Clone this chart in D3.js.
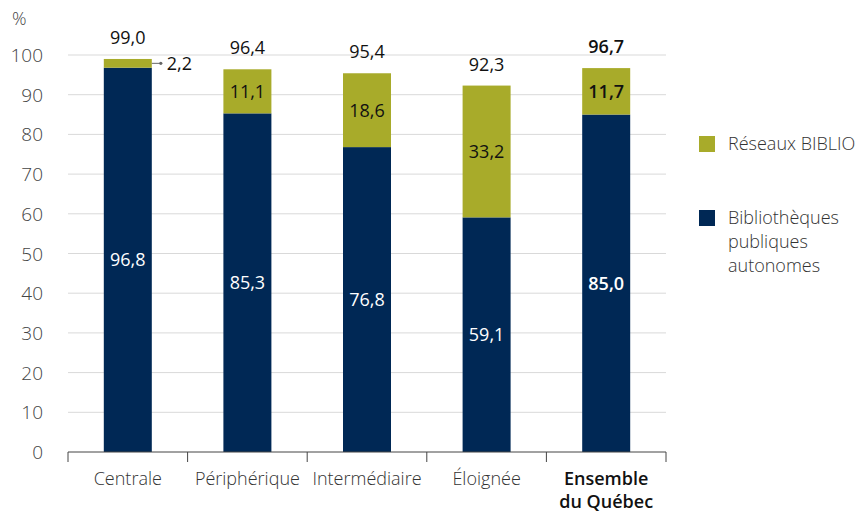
<!DOCTYPE html>
<html>
<head>
<meta charset="utf-8">
<script src="https://cdn.jsdelivr.net/npm/d3@7"></script>
<style>
  body { margin: 0; background: #fff; }
  svg { font-family: "Open Sans", sans-serif; }
</style>
</head>
<body>
<svg id="chart" width="868" height="512"></svg>
<script>
const categories = ["Centrale", "Périphérique", "Intermédiaire", "Éloignée", "Ensemble du Québec"];
const autonomes = [96.8, 85.3, 76.8, 59.1, 85.0];
const biblio = [2.2, 11.1, 18.6, 33.2, 11.7];
const totals = [99.0, 96.4, 95.4, 92.3, 96.7];
const yTicks = [0, 10, 20, 30, 40, 50, 60, 70, 80, 90, 100];

const navy = "#002855";
const olive = "#a8ab2a";
const fs = 18;
const fmt = (v) => v.toFixed(1).replace(".", ",");

const svg = d3.select("#chart");
const plotLeft = 68, plotRight = 666, plotTop = 55, plotBottom = 452;

const x = d3.scaleBand().domain(categories).range([plotLeft, plotRight]).paddingInner(0).paddingOuter(0);
const y = d3.scaleLinear().domain([0, 100]).range([plotBottom, plotTop]);
const barW = 48;
const bx = (c) => x(c) + (x.bandwidth() - barW) / 2;

// grid
svg.selectAll(".grid")
  .data(yTicks.filter((t) => t > 0))
  .enter()
  .append("line")
  .attr("x1", plotLeft)
  .attr("x2", plotRight)
  .attr("y1", (d) => y(d))
  .attr("y2", (d) => y(d))
  .attr("stroke", "#d9d9d9")
  .attr("stroke-width", 1);

// y tick labels
svg.selectAll(".ylab")
  .data(yTicks)
  .enter()
  .append("text")
  .attr("x", 43)
  .attr("y", (d) => y(d) + 7)
  .attr("text-anchor", "end")
  .attr("font-size", 19)
  .attr("font-weight", 300)
  .attr("fill", "#444")
  .text((d) => d);

svg.append("text")
  .attr("x", 12).attr("y", 25)
  .attr("font-size", fs).attr("font-weight", 300).attr("fill", "#444")
  .text("%");

// bars
svg.selectAll(".auto")
  .data(categories)
  .enter()
  .append("rect")
  .attr("x", (d) => bx(d))
  .attr("width", barW)
  .attr("y", (d, i) => y(autonomes[i]))
  .attr("height", (d, i) => y(0) - y(autonomes[i]))
  .attr("fill", navy);

svg.selectAll(".biblio")
  .data(categories)
  .enter()
  .append("rect")
  .attr("x", (d) => bx(d))
  .attr("width", barW)
  .attr("y", (d, i) => y(autonomes[i] + biblio[i]))
  .attr("height", (d, i) => y(autonomes[i]) - y(autonomes[i] + biblio[i]))
  .attr("fill", olive);

// x axis
svg.append("line")
  .attr("x1", plotLeft).attr("x2", plotRight)
  .attr("y1", plotBottom).attr("y2", plotBottom)
  .attr("stroke", "#444").attr("stroke-width", 1);

const bounds = categories.map((c) => x(c)).concat([plotRight]);
svg.selectAll(".tick")
  .data(bounds)
  .enter()
  .append("line")
  .attr("x1", (d) => d).attr("x2", (d) => d)
  .attr("y1", plotBottom).attr("y2", plotBottom + 10)
  .attr("stroke", "#444").attr("stroke-width", 1);

const last = categories.length - 1;
categories.forEach((c, i) => {
  const cx = x(c) + x.bandwidth() / 2;
  const bold = i === last;
  const t = svg.append("text")
    .attr("x", cx).attr("y", 485)
    .attr("text-anchor", "middle")
    .attr("font-size", fs)
    .attr("fill", bold ? "#111" : "#333")
    .attr("font-weight", bold ? 600 : 300);
  if (bold) {
    t.append("tspan").attr("x", cx).text("Ensemble");
    t.append("tspan").attr("x", cx).attr("dy", 23).text("du Québec");
  } else {
    t.text(c);
  }

  // totals
  svg.append("text")
    .attr("x", cx).attr("y", y(totals[i]) - 15)
    .attr("text-anchor", "middle")
    .attr("font-size", fs)
    .attr("fill", "#111")
    .attr("font-weight", bold ? 600 : 400)
    .text(fmt(totals[i]));

  // navy label
  svg.append("text")
    .attr("x", cx).attr("y", y(autonomes[i] / 2) + 6.5)
    .attr("text-anchor", "middle")
    .attr("font-size", fs)
    .attr("fill", "#fff")
    .attr("font-weight", bold ? 600 : 400)
    .text(fmt(autonomes[i]));

  // olive label
  if (i === 0) {
    const ly = y(autonomes[i] + biblio[i] / 2);
    svg.append("line")
      .attr("x1", bx(c) + barW).attr("x2", bx(c) + barW + 9)
      .attr("y1", ly).attr("y2", ly)
      .attr("stroke", "#666").attr("stroke-width", 1);
    svg.append("circle")
      .attr("cx", bx(c) + barW + 9).attr("cy", ly).attr("r", 1.6)
      .attr("fill", "#666");
    svg.append("text")
      .attr("x", bx(c) + barW + 15).attr("y", ly + 6.5)
      .attr("font-size", fs).attr("fill", "#111")
      .text(fmt(biblio[i]));
  } else {
    svg.append("text")
      .attr("x", cx).attr("y", y(autonomes[i] + biblio[i] / 2) + 6.5)
      .attr("text-anchor", "middle")
      .attr("font-size", fs)
      .attr("fill", "#111")
      .attr("font-weight", bold ? 600 : 400)
      .text(fmt(biblio[i]));
  }
});

// legend
const legend = [
  { color: olive, lines: ["Réseaux BIBLIO"], y: 136 },
  { color: navy, lines: ["Bibliothèques", "publiques", "autonomes"], y: 210 },
];
legend.forEach((l) => {
  svg.append("rect")
    .attr("x", 699).attr("y", l.y)
    .attr("width", 16).attr("height", 16)
    .attr("fill", l.color);
  const t = svg.append("text")
    .attr("x", 728).attr("y", l.y + 14)
    .attr("font-size", fs).attr("font-weight", 300).attr("fill", "#333");
  l.lines.forEach((s, k) => {
    t.append("tspan").attr("x", 728).attr("dy", k === 0 ? 0 : 24).text(s);
  });
});
</script>
</body>
</html>
